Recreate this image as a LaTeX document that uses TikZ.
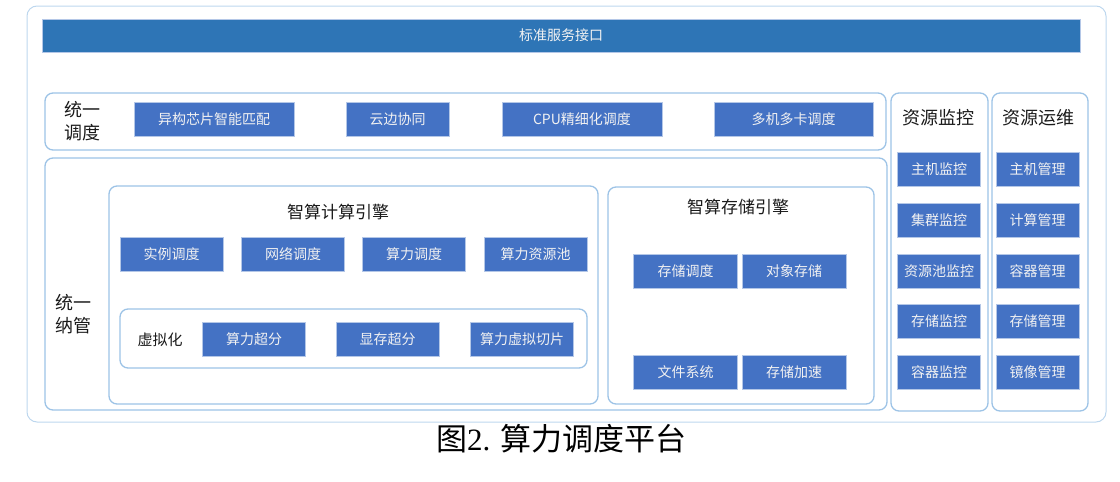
\documentclass[tikz,border=0pt]{standalone}
\usepackage{fontspec}
\setmainfont{Liberation Serif}
\newfontfamily\cjk{Noto Sans CJK SC}
\definecolor{boxblue}{HTML}{4472C4}
\definecolor{barblue}{HTML}{2E75B6}
\definecolor{frameblue}{HTML}{9DC3E6}
\definecolor{outerblue}{HTML}{BDD7EE}
\definecolor{edgeblue}{HTML}{B4C7E7}
\definecolor{boxtext}{HTML}{F2F2F2}
\definecolor{titletext}{HTML}{1A1A1A}
\begin{document}
\begin{tikzpicture}[x=1pt,y=-1pt,
  cont/.style={draw=frameblue, line width=1.3pt, rounded corners=8pt, inner sep=0pt},
  bbox/.style={fill=boxblue, draw=edgeblue, line width=0.6pt, text=boxtext,
    font=\cjk\fontsize{14}{14}\selectfont, inner sep=0pt, minimum height=34pt},
  ttl/.style={text=titletext, font=\cjk\fontsize{17}{17}\selectfont, inner sep=0pt},
  sidelbl/.style={text=titletext, font=\cjk\fontsize{18}{23}\selectfont, align=left, inner sep=0pt}]
\useasboundingbox (0,0) rectangle (1120,482);
% outer frame
\node[draw=outerblue, line width=1pt, rounded corners=10pt, minimum width=1079pt, minimum height=416pt, inner sep=0pt] (outer) at (566.5,214) {};
% top bar
\node[fill=barblue, draw=edgeblue, line width=0.6pt, minimum width=1038pt, minimum height=33pt, inner sep=0pt, text=boxtext, font=\cjk\fontsize{14}{14}\selectfont] (api) at (561,35.5) {标准服务接口};
% containers
\node[cont, minimum width=841pt, minimum height=57pt] (sched) at (465.5,121.5) {};
\node[cont, minimum width=842pt, minimum height=252pt] (manage) at (466,284) {};
\node[cont, minimum width=489pt, minimum height=218pt] (compute) at (353.5,295) {};
\node[cont, minimum width=266pt, minimum height=217pt] (storage) at (741,295.5) {};
\node[cont, minimum width=467pt, minimum height=59pt] (virt) at (353.5,338.5) {};
\node[cont, minimum width=97pt, minimum height=318pt] (mon) at (939.5,252) {};
\node[cont, minimum width=96pt, minimum height=318pt] (ops) at (1040,252) {};
% labels
\node[sidelbl] (schedlbl) at (82,121) {统一\\调度};
\node[sidelbl] (managelbl) at (73,314) {统一\\纳管};
\node[text=titletext, font=\cjk\fontsize{15}{15}\selectfont, inner sep=0pt] (virtlbl) at (160,340) {虚拟化};
\node[ttl] (computettl) at (338,212) {智算计算引擎};
\node[ttl] (storagettl) at (738,207) {智算存储引擎};
\node[ttl, font=\cjk\fontsize{18}{18}\selectfont] (monttl) at (938,118) {资源监控};
\node[ttl, font=\cjk\fontsize{18}{18}\selectfont] (opsttl) at (1038,118) {资源运维};
% row 1
\node[bbox, minimum width=160pt] (s1) at (214,119) {异构芯片智能匹配};
\node[bbox, minimum width=103pt] (s2) at (397.5,119) {云边协同};
\node[bbox, minimum width=160pt] (s3) at (582,119) {CPU精细化调度};
\node[bbox, minimum width=159pt] (s4) at (793.5,119) {多机多卡调度};
% compute row
\node[bbox, minimum width=103pt] (c1) at (171.5,254) {实例调度};
\node[bbox, minimum width=103pt] (c2) at (293,254) {网络调度};
\node[bbox, minimum width=103pt] (c3) at (414,254) {算力调度};
\node[bbox, minimum width=103pt] (c4) at (535.5,254) {算力资源池};
% virtualization
\node[bbox, minimum width=103pt] (v1) at (254,339) {算力超分};
\node[bbox, minimum width=103pt] (v2) at (387.5,339) {显存超分};
\node[bbox, minimum width=103pt] (v3) at (522,339) {算力虚拟切片};
% storage
\node[bbox, minimum width=104pt] (st1) at (685.5,271) {存储调度};
\node[bbox, minimum width=104pt] (st2) at (794,271) {对象存储};
\node[bbox, minimum width=104pt] (st3) at (685.5,372) {文件系统};
\node[bbox, minimum width=104pt] (st4) at (794,372) {存储加速};
% monitoring
\node[bbox, minimum width=83pt] (m1) at (939,169.5) {主机监控};
\node[bbox, minimum width=83pt] (m2) at (939,220) {集群监控};
\node[bbox, minimum width=83pt] (m3) at (939,271) {资源池监控};
\node[bbox, minimum width=83pt] (m4) at (939,321.5) {存储监控};
\node[bbox, minimum width=83pt] (m5) at (939,372) {容器监控};
% operations
\node[bbox, minimum width=83pt] (o1) at (1037.5,169.5) {主机管理};
\node[bbox, minimum width=83pt] (o2) at (1037.5,220) {计算管理};
\node[bbox, minimum width=83pt] (o3) at (1037.5,271) {容器管理};
\node[bbox, minimum width=83pt] (o4) at (1037.5,321.5) {存储管理};
\node[bbox, minimum width=83pt] (o5) at (1037.5,372) {镜像管理};
% caption
\node[inner sep=0pt, text=black, font=\fontsize{31}{31}\selectfont] (caption) at (561.5,439) {{\cjk 图}2. {\cjk 算力调度平台}};
\end{tikzpicture}
\end{document}
